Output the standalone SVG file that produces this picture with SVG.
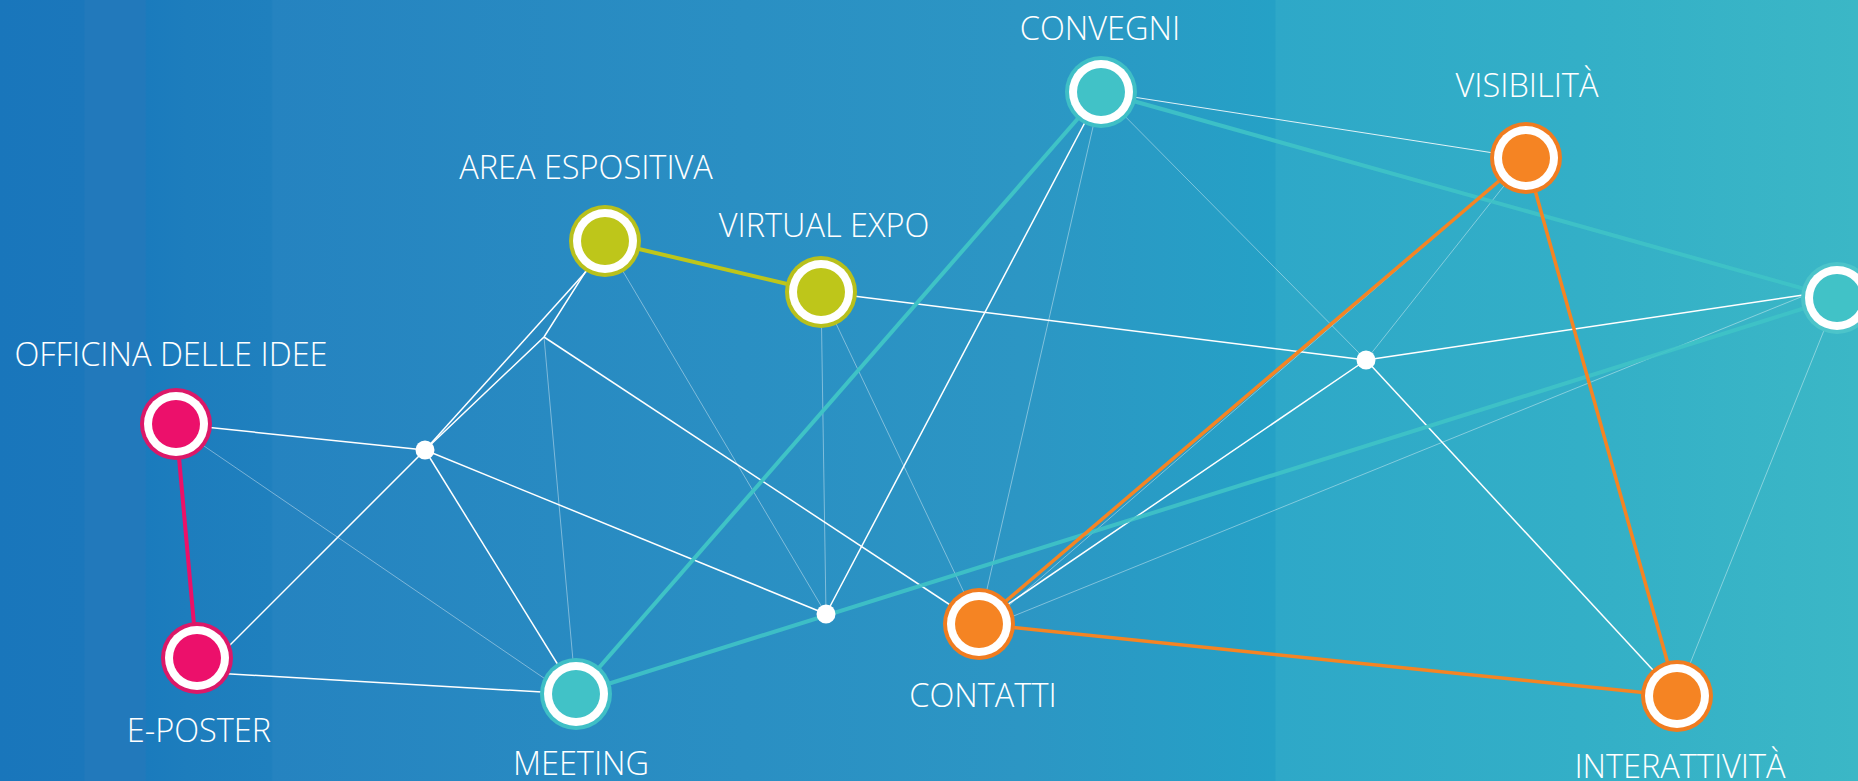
<svg xmlns="http://www.w3.org/2000/svg" width="1858" height="781" viewBox="0 0 1858 781">
<defs>
<linearGradient id="bg" gradientUnits="userSpaceOnUse" x1="0" y1="0" x2="1858" y2="0">
<stop offset="0" stop-color="#1976bb"/>
<stop offset="0.045" stop-color="#1b77bb"/>
<stop offset="0.046" stop-color="#2279bb"/>
<stop offset="0.078" stop-color="#2279bb"/>
<stop offset="0.079" stop-color="#1a7bbd"/>
<stop offset="0.1" stop-color="#1d7dbd"/>
<stop offset="0.146" stop-color="#1f80be"/>
<stop offset="0.147" stop-color="#2583c0"/>
<stop offset="0.4" stop-color="#2a8fc3"/>
<stop offset="0.55" stop-color="#2c96c4"/>
<stop offset="0.686" stop-color="#25a1c6"/>
<stop offset="0.687" stop-color="#2ea8c8"/>
<stop offset="0.85" stop-color="#33afc7"/>
<stop offset="1" stop-color="#3bb7c6"/>
</linearGradient>
<style>
.lbl{font-family:"Open Sans","Liberation Sans",sans-serif;font-size:32.5px;fill:#ffffff;text-anchor:middle;font-weight:300}
.w{stroke:#ffffff;stroke-width:1.5;fill:none}
.wt{stroke:#ffffff;stroke-width:1;fill:none;opacity:0.85}
.f{stroke:#ffffff;stroke-width:1;fill:none;opacity:0.4}
.cy{stroke:#3fc3c6;stroke-width:4;fill:none}
.or{stroke:#f58423;stroke-width:3.5;fill:none}
.pk{stroke:#ec1068;stroke-width:4;fill:none}
.lm{stroke:#bec61a;stroke-width:4;fill:none}
.ring{fill:#ffffff}
.dot{fill:#ffffff}
</style>
</defs>
<rect x="0" y="0" width="1858" height="781" fill="url(#bg)"/>
<g id="connectors">
<line class="f" x1="204" y1="446" x2="576" y2="700"/>
<line class="f" x1="544" y1="337" x2="576" y2="694"/>
<line class="f" x1="605" y1="241" x2="826" y2="614"/>
<line class="f" x1="821" y1="292" x2="826" y2="614"/>
<line class="f" x1="821" y1="292" x2="979" y2="624"/>
<line class="f" x1="1101" y1="92" x2="979" y2="624"/>
<line class="f" x1="1101" y1="92" x2="1366" y2="360"/>
<line class="f" x1="1526" y1="158" x2="1366" y2="360"/>
<line class="f" x1="1526" y1="158" x2="991" y2="621"/>
<line class="f" x1="979" y1="630" x2="1833" y2="284"/>
<line class="f" x1="1837" y1="298" x2="1677" y2="696"/>
<line class="w" x1="176" y1="424" x2="425" y2="450"/>
<line class="w" x1="213" y1="662" x2="425" y2="450"/>
<line class="w" x1="197" y1="672" x2="576" y2="694"/>
<line class="w" x1="601" y1="255" x2="425" y2="450"/>
<polyline class="w" points="605,241 544,337 425,450"/>
<line class="w" x1="425" y1="450" x2="576" y2="694"/>
<line class="w" x1="425" y1="450" x2="826" y2="614"/>
<line class="w" x1="544" y1="337" x2="979" y2="624"/>
<line class="w" x1="821" y1="292" x2="1366" y2="360"/>
<line class="w" x1="826" y1="614" x2="1101" y2="92"/>
<line class="w" x1="1366" y1="360" x2="1837" y2="290"/>
<line class="w" x1="1366" y1="360" x2="979" y2="624"/>
<line class="w" x1="1366" y1="360" x2="1677" y2="696"/>
<line class="wt" x1="1101" y1="92" x2="1526" y2="158"/>
<line class="pk" x1="176" y1="424" x2="197" y2="658"/>
<line class="lm" x1="605" y1="241" x2="821" y2="292"/>
<line class="cy" x1="576" y1="694" x2="1101" y2="92"/>
<line class="cy" x1="576" y1="694" x2="1837" y2="298" opacity="0.9"/>
<line class="cy" x1="1101" y1="92" x2="1837" y2="298" opacity="0.9"/>
<line class="or" x1="1526" y1="158" x2="979" y2="624"/>
<line class="or" x1="1526" y1="158" x2="1677" y2="696"/>
<line class="or" x1="979" y1="624" x2="1677" y2="696"/>
</g>
<g id="dot1"><circle class="dot" cx="425" cy="450" r="9.5"/></g>
<g id="dot2"><circle class="dot" cx="826" cy="614" r="9.5"/></g>
<g id="dot3"><circle class="dot" cx="1366" cy="360" r="9.5"/></g>
<g id="officina">
<circle cx="176" cy="424" r="36" fill="#dc1868"/><circle class="ring" cx="176" cy="424" r="32"/><circle cx="176" cy="424" r="24" fill="#ec106b"/>
<text class="lbl" x="171" y="366">OFFICINA DELLE IDEE</text>
</g>
<g id="eposter">
<circle cx="197" cy="658" r="36" fill="#dc1868"/><circle class="ring" cx="197" cy="658" r="32"/><circle cx="197" cy="658" r="24" fill="#ec106b"/>
<text class="lbl" x="199" y="742">E-POSTER</text>
</g>
<g id="area">
<circle cx="605" cy="241" r="36" fill="#b8c01c"/><circle class="ring" cx="605" cy="241" r="32"/><circle cx="605" cy="241" r="24" fill="#bec61a"/>
<text class="lbl" x="586" y="179">AREA ESPOSITIVA</text>
</g>
<g id="virtual">
<circle cx="821" cy="292" r="36" fill="#b8c01c"/><circle class="ring" cx="821" cy="292" r="32"/><circle cx="821" cy="292" r="24" fill="#bec61a"/>
<text class="lbl" x="824" y="237">VIRTUAL EXPO</text>
</g>
<g id="convegni">
<circle cx="1101" cy="92" r="36" fill="#3fbfc6"/><circle class="ring" cx="1101" cy="92" r="32"/><circle cx="1101" cy="92" r="24" fill="#41c2c7"/>
<text class="lbl" x="1100" y="40">CONVEGNI</text>
</g>
<g id="visibilita">
<circle cx="1526" cy="158" r="36" fill="#f07c20"/><circle class="ring" cx="1526" cy="158" r="32"/><circle cx="1526" cy="158" r="24" fill="#f58423"/>
<text class="lbl" x="1527" y="97">VISIBILITÀ</text>
</g>
<g id="right-node">
<circle cx="1837" cy="298" r="36" fill="#4cc4ca"/><circle class="ring" cx="1837" cy="298" r="32"/><circle cx="1837" cy="298" r="24" fill="#41c2c7"/>
</g>
<g id="meeting">
<circle cx="576" cy="694" r="36" fill="#3fbfc6"/><circle class="ring" cx="576" cy="694" r="32"/><circle cx="576" cy="694" r="24" fill="#41c2c7"/>
<text class="lbl" x="581" y="775">MEETING</text>
</g>
<g id="contatti">
<circle cx="979" cy="624" r="36" fill="#f07c20"/><circle class="ring" cx="979" cy="624" r="32"/><circle cx="979" cy="624" r="24" fill="#f58423"/>
<text class="lbl" x="983" y="707">CONTATTI</text>
</g>
<g id="interattivita">
<circle cx="1677" cy="696" r="36" fill="#f07c20"/><circle class="ring" cx="1677" cy="696" r="32"/><circle cx="1677" cy="696" r="24" fill="#f58423"/>
<text class="lbl" x="1680" y="778">INTERATTIVITÀ</text>
</g>
</svg>
